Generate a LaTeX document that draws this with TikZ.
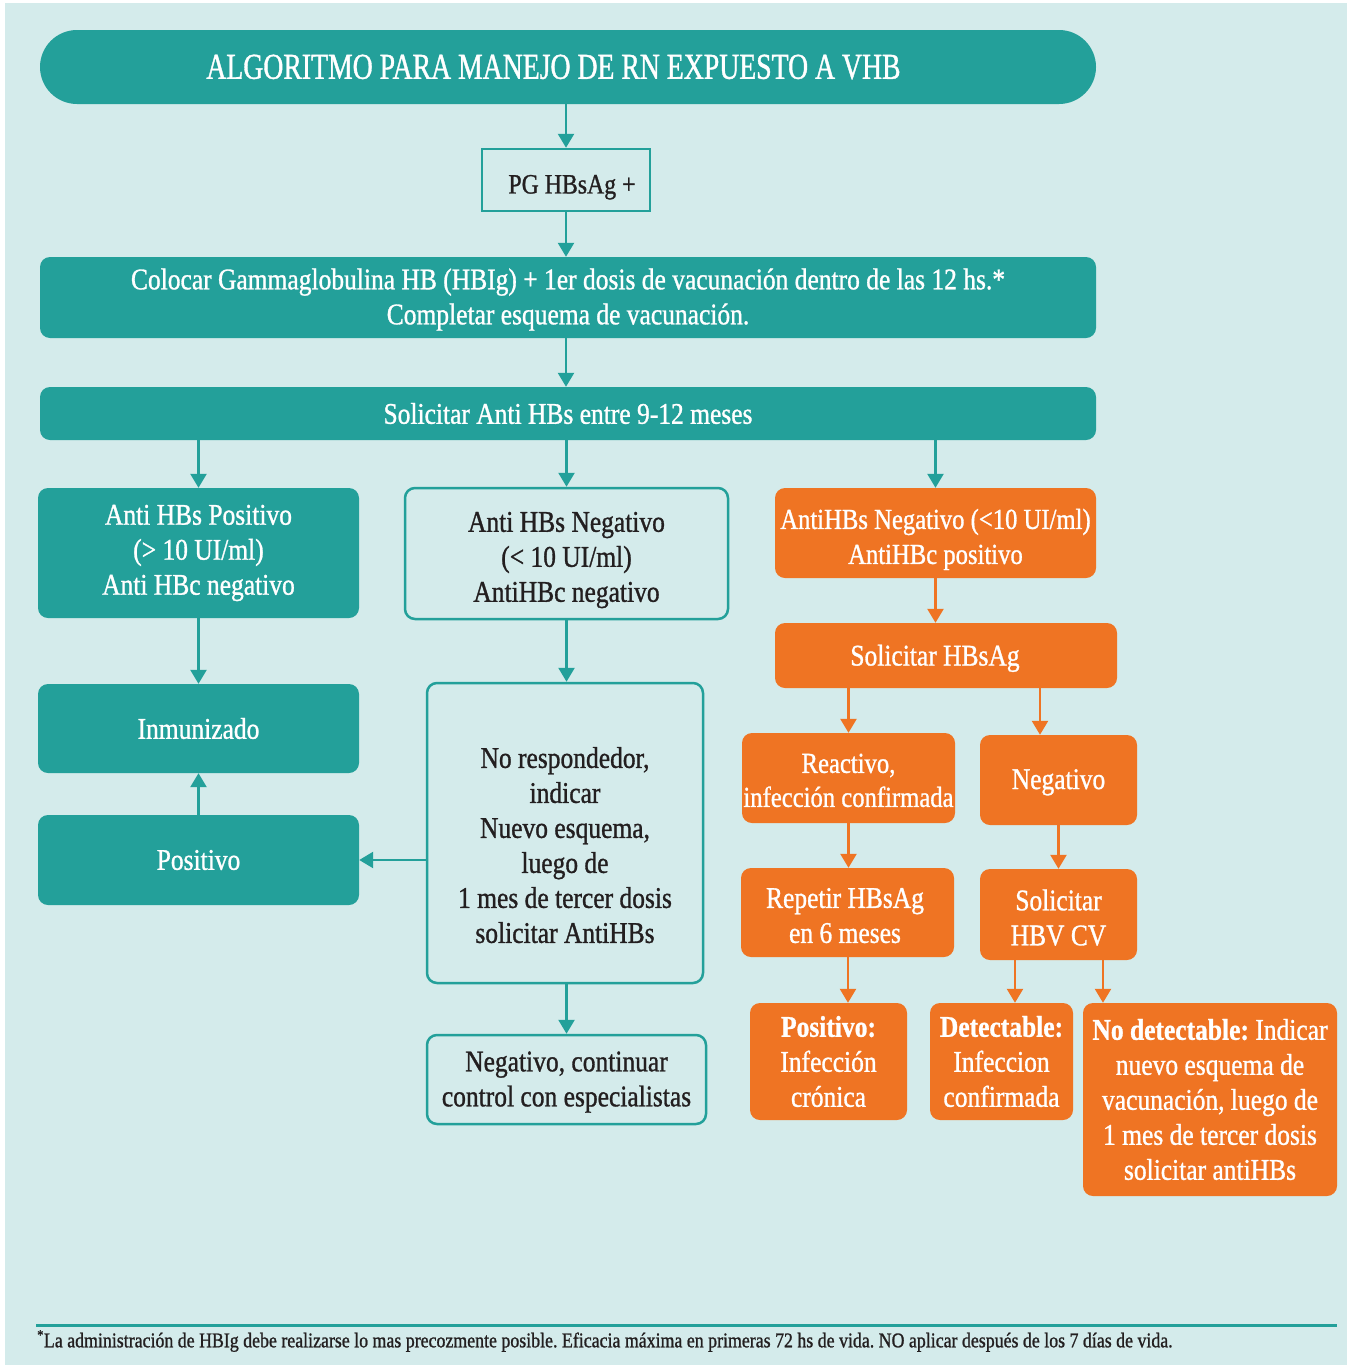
\documentclass[tikz,border=0pt]{standalone}
\usepackage{fontspec}
\setmainfont{Liberation Serif}[FakeStretch=0.85,FakeBold=1]
\newfontfamily\titlefont{Liberation Serif}[FakeStretch=0.76,FakeBold=1]
\usetikzlibrary{arrows.meta}
\definecolor{bgc}{RGB}{212,235,235}
\definecolor{tealc}{RGB}{35,160,154}
\definecolor{orng}{RGB}{239,116,35}
\definecolor{darkc}{RGB}{35,31,32}
\newcommand\upstrut[1]{\rule{0pt}{#1pt}}
\begin{document}
\frenchspacing
\begin{tikzpicture}[x=1pt,y=-1pt,
  base/.style={inner sep=0pt, align=center, font=\fontsize{30}{35}\selectfont, rounded corners=10pt},
  tealbox/.style={base, fill=tealc, text=white},
  outbox/.style={base, draw=tealc, line width=2.5pt, fill=bgc, text=darkc},
  orbox/.style={base, fill=orng, text=white},
  arr/.style={line width=2.5pt, -{Triangle[width=16pt,length=14pt]}},
  tarr/.style={arr, draw=tealc, fill=tealc},
  oarr/.style={arr, draw=orng, fill=orng},
]
\useasboundingbox (0,0) rectangle (1347,1365);
\fill[white] (0,0) rectangle (1347,1365);
\fill[bgc] (5,3) rectangle (1347,1365);

% top chain
\node[tealbox, rounded corners=37pt, minimum width=1056pt, minimum height=74pt,
      font=\titlefont\fontsize{36.5}{42}\selectfont] (title) at (568,67)
      {\hspace*{-29pt}ALGORITMO PARA MANEJO DE RN EXPUESTO A VHB};
\node[outbox, rounded corners=0pt, minimum width=168pt, minimum height=62pt,
      font=\fontsize{28}{33}\selectfont] (pg) at (566,180)
      {\hspace*{12pt}\upstrut{33}PG HBsAg +};
\node[tealbox, minimum width=1056pt, minimum height=81pt] (colocar) at (568,297.5)
      {\upstrut{25}Colocar Gammaglobulina HB (HBIg) + 1er dosis de vacunación dentro de las 12 hs.*\\
       Completar esquema de vacunación.};
\node[tealbox, minimum width=1056pt, minimum height=53pt] (solanti) at (568,413.5)
      {Solicitar Anti HBs entre 9-12 meses};

% three branches
\node[tealbox, minimum width=321pt, minimum height=130pt] (a1) at (198.5,553)
      {Anti HBs Positivo\\(> 10 UI/ml)\\Anti HBc negativo};
\node[outbox, minimum width=323pt, minimum height=131pt] (b1) at (566.5,553.5)
      {\upstrut{33}Anti HBs Negativo\\(< 10 UI/ml)\\AntiHBc negativo};
\node[orbox, minimum width=321pt, minimum height=90pt, font=\fontsize{29}{35}\selectfont] (c1) at (935.5,533)
      {\upstrut{33}AntiHBs Negativo (<10 UI/ml)\\AntiHBc positivo};

% left column
\node[tealbox, minimum width=321pt, minimum height=89pt] (inm) at (198.5,728.5) {Inmunizado};
\node[tealbox, minimum width=321pt, minimum height=90pt] (pos) at (198.5,860) {Positivo};

% middle column
\node[outbox, minimum width=276pt, minimum height=300pt] (noresp) at (565,833)
      {\upstrut{45}No respondedor,\\indicar\\Nuevo esquema,\\luego de\\1 mes de tercer dosis\\solicitar AntiHBs};
\node[outbox, minimum width=279pt, minimum height=89pt] (neg) at (566.5,1079.5)
      {\upstrut{25}Negativo, continuar\\control con especialistas};

% right column
\node[orbox, minimum width=342pt, minimum height=65pt] (solh) at (946,655.5)
      {\hspace*{-22pt}\upstrut{26.5}Solicitar HBsAg};
\node[orbox, minimum width=213pt, minimum height=90pt, font=\fontsize{29}{34}\selectfont] (reac) at (848.5,778)
      {\upstrut{24}Reactivo,\\infección confirmada};
\node[orbox, minimum width=157pt, minimum height=90pt] (neg2) at (1058.5,780) {\upstrut{24.5}Negativo};
\node[orbox, minimum width=213pt, minimum height=89pt] (rep) at (847.5,912.5)
      {\hspace*{-5pt}\upstrut{26}Repetir HBsAg\\\hspace*{-5pt}en 6 meses};
\node[orbox, minimum width=157pt, minimum height=91pt] (hbv) at (1058.5,914.5)
      {\upstrut{27}Solicitar\\HBV CV};
\node[orbox, minimum width=157pt, minimum height=117pt] (posinf) at (828.5,1061.5)
      {\textbf{Positivo:}\\Infección\\crónica};
\node[orbox, minimum width=143pt, minimum height=117pt] (det) at (1001.5,1061.5)
      {\textbf{Detectable:}\\Infeccion\\confirmada};
\node[orbox, minimum width=254pt, minimum height=193pt] (nodet) at (1210,1099.5)
      {\textbf{No detectable:} Indicar\\nuevo esquema de\\vacunación, luego de\\1 mes de tercer dosis\\solicitar antiHBs};

% connectors (teal)
\draw[tarr] (title.south -| pg.north) -- (pg.north);
\draw[tarr] (pg.south) -- (colocar.north -| pg.south);
\draw[tarr] (colocar.south -| pg.south) -- (solanti.north -| pg.south);
\draw[tarr] (solanti.south -| a1.north) -- (a1.north);
\draw[tarr] (solanti.south -| b1.north) -- (b1.north);
\draw[tarr] (solanti.south -| c1.north) -- (c1.north);
\draw[tarr] (a1.south) -- (inm.north);
\draw[tarr] (pos.north) -- (inm.south);
\draw[tarr] (b1.south) -- (noresp.north -| b1.south);
\draw[tarr] (noresp.west |- pos.east) -- (pos.east);
\draw[tarr] (noresp.south -| b1.south) -- (neg.north -| b1.south);

% connectors (orange)
\draw[oarr] (c1.south) -- (solh.north -| c1.south);
\draw[oarr] (solh.south -| reac.north) -- (reac.north);
\draw[oarr] (solh.south -| 1040,0) -- (neg2.north -| 1040,0);
\draw[oarr] (reac.south) -- (rep.north -| reac.south);
\draw[oarr] (neg2.south) -- (hbv.north);
\draw[oarr] (rep.south -| 848,0) -- (posinf.north -| 848,0);
\draw[oarr] (hbv.south -| 1015,0) -- (det.north -| 1015,0);
\draw[oarr] (hbv.south -| 1103,0) -- (nodet.north -| 1103,0);

% footer
\draw[tealc, line width=3pt] (36,1325) -- (1337,1325);
\node[anchor=west, inner sep=0pt, text=darkc, font=\fontsize{21}{24}\selectfont] (foot) at (37,1341)
  {\textsuperscript{*}La administración de HBIg debe realizarse lo mas precozmente posible. Eficacia máxima en primeras 72 hs de vida. NO aplicar después de los 7 días de vida.};
\end{tikzpicture}
\end{document}
